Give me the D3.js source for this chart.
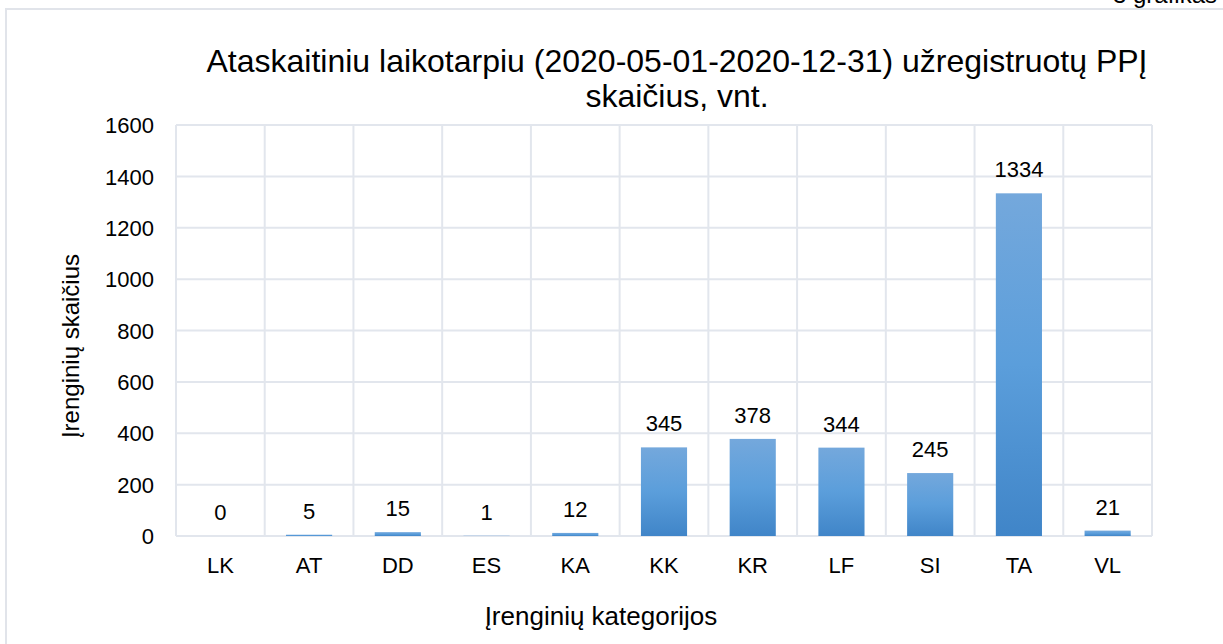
<!DOCTYPE html>
<html>
<head>
<meta charset="utf-8">
<script src="https://cdn.jsdelivr.net/npm/d3@7"></script>
<style>
  body { margin: 0; background: #fff; }
  text { font-family: "Liberation Sans", Arial, sans-serif; fill: #000; }
</style>
</head>
<body>
<svg id="chart" width="1223" height="644"></svg>
<script>
// data
const categories = ["LK", "AT", "DD", "ES", "KA", "KK", "KR", "LF", "SI", "TA", "VL"];
const counts = [0, 5, 15, 1, 12, 345, 378, 344, 245, 1334, 21];
const yTicks = [0, 200, 400, 600, 800, 1000, 1200, 1400, 1600];
const titleLines = ["Ataskaitiniu laikotarpiu (2020-05-01-2020-12-31) užregistruotų PPĮ", "skaičius, vnt."];

const svg = d3.select("#chart");
const m = { left: 176, right: 1152, top: 125, bottom: 536 };
const grid = "#e2e6ed";
const font = "'Liberation Sans', Arial, sans-serif";

// outer chart frame (runs off the right / bottom edges)
svg.append("rect")
  .attr("x", 6).attr("y", 9).attr("width", 1240).attr("height", 660)
  .attr("fill", "none").attr("stroke", "#e1e4ea").attr("stroke-width", 2);

// page caption, cut by the top edge as in the reference
svg.append("text")
  .attr("x", 1113).attr("y", 3)
  .style("font-size", "24px").text("3 grafikas");

const x = d3.scaleBand().domain(categories).range([m.left, m.right]).paddingInner(0.48).paddingOuter(0.24);
const xCell = d3.scaleBand().domain(categories).range([m.left, m.right]);
const y = d3.scaleLinear().domain([0, 1600]).range([m.bottom, m.top]);

const defs = svg.append("defs");
const grad = defs.append("linearGradient").attr("id", "barGrad")
  .attr("x1", 0).attr("y1", 0).attr("x2", 0).attr("y2", 1);
grad.append("stop").attr("offset", "0%").attr("stop-color", "#74a8dc");
grad.append("stop").attr("offset", "50%").attr("stop-color", "#5b9edb");
grad.append("stop").attr("offset", "100%").attr("stop-color", "#4085c8");

// gridlines
svg.append("g").selectAll("line").data(yTicks).join("line")
  .attr("x1", m.left).attr("x2", m.right)
  .attr("y1", d => y(d)).attr("y2", d => y(d))
  .attr("stroke", grid).attr("stroke-width", 2);
const vx = categories.map(c => xCell(c)).concat([m.right]);
svg.append("g").selectAll("line").data(vx).join("line")
  .attr("x1", d => d).attr("x2", d => d)
  .attr("y1", m.top).attr("y2", m.bottom)
  .attr("stroke", grid).attr("stroke-width", 2);

// bars
svg.append("g").selectAll("rect").data(counts).join("rect")
  .attr("x", (d, i) => x(categories[i]))
  .attr("width", x.bandwidth())
  .attr("y", d => y(d))
  .attr("height", d => y(0) - y(d))
  .attr("fill", "url(#barGrad)");

// value labels
svg.append("g").selectAll("text").data(counts).join("text")
  .attr("x", (d, i) => x(categories[i]) + x.bandwidth() / 2)
  .attr("y", d => y(d) - 16)
  .attr("text-anchor", "middle")
  .style("font-size", "22px")
  .text(d => d);

// y axis
const yAxis = svg.append("g").attr("transform", `translate(${m.left},0)`)
  .call(d3.axisLeft(y).tickValues(yTicks).tickFormat(d3.format("d")).tickSize(0).tickPadding(22));
yAxis.select(".domain").remove();
yAxis.selectAll("text").style("font-size", "22px").attr("dy", "0.35em")
  .style("font-family", font).attr("fill", "#000");

// x axis
const xAxis = svg.append("g").attr("transform", `translate(0,${m.bottom})`)
  .call(d3.axisBottom(xCell).tickSize(0).tickPadding(21));
xAxis.select(".domain").remove();
xAxis.selectAll("text").style("font-size", "22px")
  .style("font-family", font).attr("fill", "#000");

// titles
svg.append("text").attr("text-anchor", "middle").style("font-size", "32px")
  .selectAll("tspan").data(titleLines).join("tspan")
  .attr("x", 677).attr("y", (d, i) => 72 + i * 35).text(d => d);

svg.append("text").attr("x", 601).attr("y", 625).attr("text-anchor", "middle")
  .style("font-size", "26px").text("Įrenginių kategorijos");

svg.append("text").attr("transform", "translate(79,346) rotate(-90)")
  .attr("text-anchor", "middle").style("font-size", "24px").text("Įrenginių skaičius");
</script>
</body>
</html>
